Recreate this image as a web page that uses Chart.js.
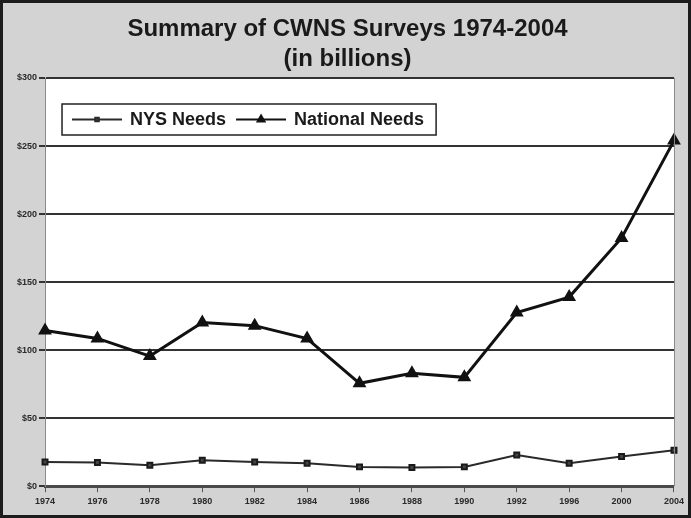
<!DOCTYPE html>
<html lang="en">
<head>
    <meta charset="UTF-8">
    <title>Summary of CWNS Surveys 1974-2004</title>
    <script src="https://cdn.jsdelivr.net/npm/chart.js"></script>
    <style>
        body {
            margin: 0;
            padding: 0;
            background: #fff;
        }

        #wrap {
            width: 691px;
            height: 518px;
            box-sizing: border-box;
            border: 3px solid #1c1c1c;
            background: #d3d3d3;
            position: relative;
        }
    </style>
</head>
<body>
    <div id="wrap">
        <canvas id="cwnsChart"></canvas>
    </div>

    <script>
        // data (billions of dollars)
        const years = ['1974', '1976', '1978', '1980', '1982', '1984', '1986', '1988', '1990', '1992', '1996', '2000', '2004'];
        const nysNeeds = [17.8, 17.4, 15.4, 19.1, 17.8, 16.9, 14.2, 13.7, 14.2, 23, 16.9, 21.8, 26.4];
        const nationalNeeds = [114.5, 108.6, 95.6, 120.3, 118, 108.5, 75.6, 83, 80, 127.7, 139, 182.5, 254];
        const yTicks = [0, 50, 100, 150, 200, 250, 300];

        const fontFamily = '"Liberation Sans", Arial, sans-serif';

        // white plot area + thin frame on the right
        const plotBg = {
            id: 'plotBg',
            beforeDraw(chart) {
                const { ctx, chartArea: a } = chart;
                ctx.save();
                ctx.fillStyle = '#ffffff';
                ctx.fillRect(a.left, a.top, a.right - a.left, a.bottom - a.top);
                ctx.restore();
            },
            afterDatasetsDraw(chart) {
                const { ctx, chartArea: a } = chart;
                ctx.save();
                ctx.strokeStyle = '#8a8a8a';
                ctx.lineWidth = 1;
                ctx.beginPath();
                ctx.moveTo(a.right + 0.5, a.top);
                ctx.lineTo(a.right + 0.5, a.bottom);
                ctx.stroke();
                ctx.restore();
            }
        };

        // boxed legend sitting inside the plot, top left
        const boxLegend = {
            id: 'boxLegend',
            afterDraw(chart) {
                const { ctx, chartArea: a } = chart;
                const x0 = a.left + 17;
                const y0 = a.top + 26;
                const h = 31;
                ctx.save();
                ctx.font = 'bold 18px ' + fontFamily;
                ctx.textBaseline = 'middle';
                let x = x0 + 10;
                const items = chart.data.datasets.map(ds => ({ ds, w: ctx.measureText(ds.label).width }));
                const total = items.reduce((s, it) => s + 50 + 8 + it.w, 0) + 10 * (items.length - 1) + 22;
                ctx.fillStyle = '#fff';
                ctx.fillRect(x0, y0, total, h);
                ctx.strokeStyle = '#222';
                ctx.lineWidth = 1.5;
                ctx.strokeRect(x0, y0, total, h);
                const cy = y0 + h / 2;
                items.forEach(({ ds, w }) => {
                    ctx.strokeStyle = ds.borderColor;
                    ctx.lineWidth = 2;
                    ctx.beginPath();
                    ctx.moveTo(x, cy);
                    ctx.lineTo(x + 50, cy);
                    ctx.stroke();
                    ctx.fillStyle = ds.pointBackgroundColor;
                    Chart.helpers.drawPoint(ctx, {
                        pointStyle: ds.pointStyle,
                        radius: ds.pointRadius - 1,
                        borderWidth: 1
                    }, x + 25, cy);
                    ctx.fillStyle = '#1a1a1a';
                    ctx.fillText(ds.label, x + 58, cy + 1);
                    x += 58 + w + 10;
                });
                ctx.restore();
            }
        };

        const ctx = document.getElementById('cwnsChart').getContext('2d');
        const cwnsChart = new Chart(ctx, {
            type: 'line',
            data: {
                labels: years,
                datasets: [
                    {
                        label: 'NYS Needs',
                        data: nysNeeds,
                        borderColor: '#2a2a2a',
                        backgroundColor: '#444',
                        borderWidth: 2,
                        pointStyle: 'rect',
                        pointRadius: 3.5,
                        pointBackgroundColor: '#444',
                        pointBorderColor: '#1a1a1a',
                        tension: 0
                    },
                    {
                        label: 'National Needs',
                        data: nationalNeeds,
                        borderColor: '#111',
                        backgroundColor: '#111',
                        borderWidth: 3,
                        pointStyle: 'triangle',
                        pointRadius: 5,
                        pointBackgroundColor: '#111',
                        pointBorderColor: '#111',
                        tension: 0
                    }
                ]
            },
            options: {
                responsive: true,
                maintainAspectRatio: false,
                animation: false,
                layout: { padding: { left: 12, right: 8, top: 11, bottom: 4 } },
                plugins: {
                    legend: { display: false },
                    tooltip: { enabled: false },
                    title: {
                        display: true,
                        text: ['Summary of CWNS Surveys 1974-2004', '(in billions)'],
                        color: '#1a1a1a',
                        font: { family: fontFamily, size: 24, weight: 'bold', lineHeight: 1.25 },
                        padding: { top: 0, bottom: 4 }
                    }
                },
                scales: {
                    x: {
                        offset: false,
                        grid: { drawOnChartArea: false, color: '#555', tickLength: 6, lineWidth: 1 },
                        border: { color: '#4a4a4a', width: 3 },
                        ticks: {
                            autoSkip: false,
                            maxRotation: 0,
                            color: '#2a2a2a',
                            padding: 4,
                            font: { family: fontFamily, size: 9, weight: 'bold' }
                        }
                    },
                    y: {
                        min: 0,
                        max: 300,
                        afterBuildTicks: axis => { axis.ticks = yTicks.map(v => ({ value: v })); },
                        grid: { color: '#333', lineWidth: 2, tickLength: 6 },
                        border: { color: '#8a8a8a', width: 1 },
                        ticks: {
                            color: '#2a2a2a',
                            padding: 2,
                            font: { family: fontFamily, size: 9, weight: 'bold' },
                            callback: v => '$' + v
                        }
                    }
                }
            },
            plugins: [plotBg, boxLegend]
        });
    </script>
</body>
</html>
